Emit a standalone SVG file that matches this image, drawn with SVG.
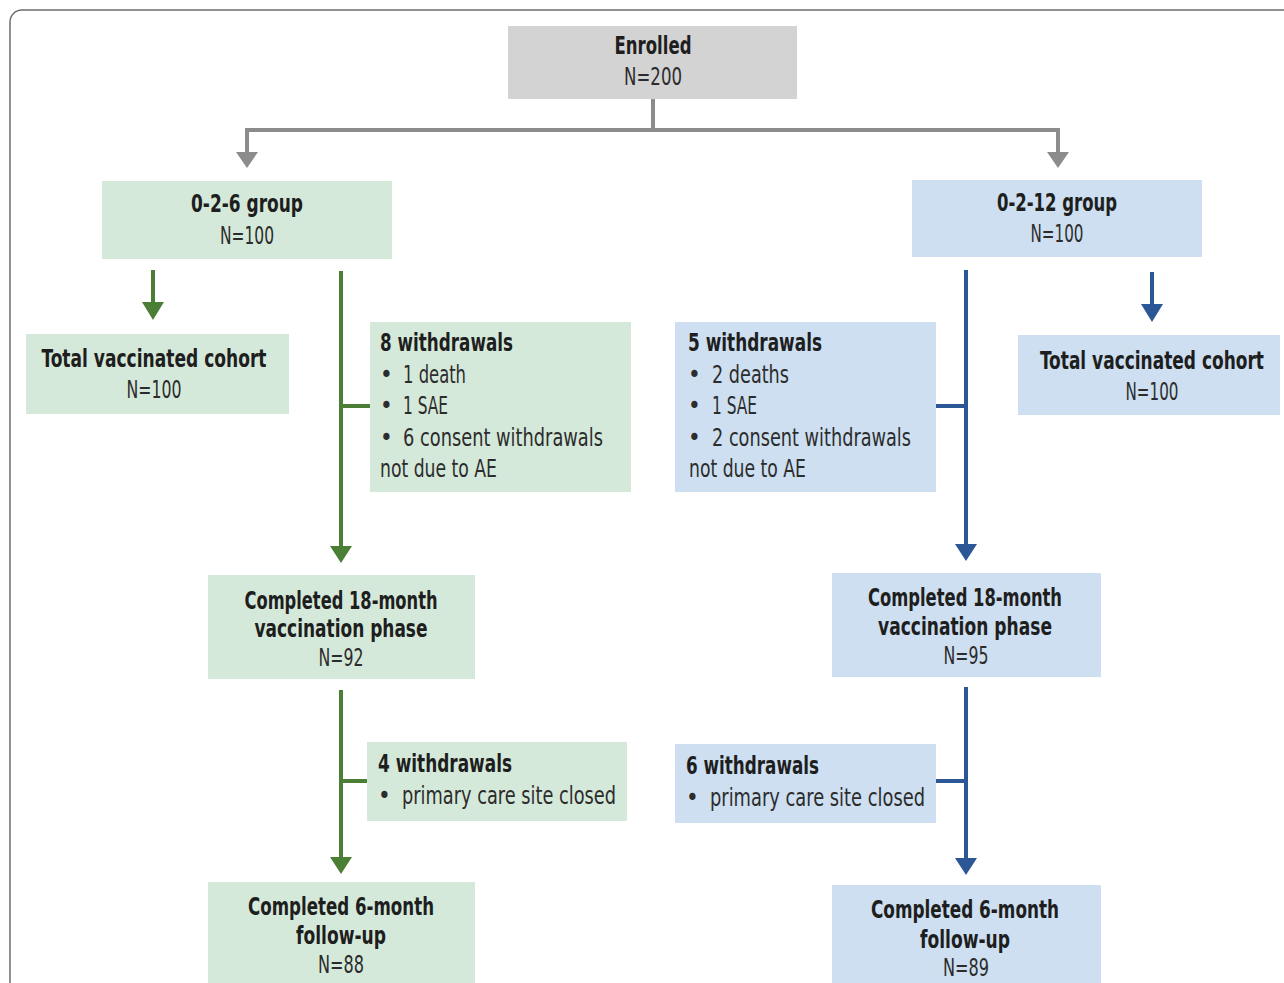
<svg xmlns="http://www.w3.org/2000/svg" width="1284" height="983" viewBox="0 0 1284 983">
<defs>
<style>
.t{font-family:"DejaVu Sans Condensed","DejaVu Sans","Liberation Sans",sans-serif;font-stretch:condensed;font-size:24px;fill:#2c2c2c;}
.b{font-weight:bold;fill:#1e1e1e;}
.c{text-anchor:middle;}
.g{fill:#d5e9da;}
.bl{fill:#cddff0;}
.gr{fill:#d3d3d4;}
.lg{stroke:#4b7f35;stroke-width:4;fill:none;}
.lb{stroke:#2b5797;stroke-width:4;fill:none;}
.lgr{stroke:#8c8c8c;stroke-width:4;fill:none;}
</style>
</defs>
<rect x="10" y="10" width="1300" height="1000" rx="12" fill="#ffffff" stroke="#6e6e6e" stroke-width="1.5"/>

<g id="connectors">
<path class="lgr" d="M653,99 V130 M247,130 H1058 M247,128 V156 M1058,128 V156"/>
<path d="M236,152 L258,152 L247,168 Z M1047,152 L1069,152 L1058,168 Z" fill="#8c8c8c"/>
<path class="lg" d="M153,270 V306 M341,271 V550 M341,406 H370 M341,690 V861 M341,781 H367"/>
<path d="M142,302 L164,302 L153,320 Z M330,546 L352,546 L341,563 Z M330,857 L352,857 L341,874 Z" fill="#4b7f35"/>
<path class="lb" d="M1152,272 V308 M966,270 V548 M936,406 H966 M966,687 V862 M936,781 H966"/>
<path d="M1141,304 L1163,304 L1152,322 Z M955,544 L977,544 L966,561 Z M955,858 L977,858 L966,875 Z" fill="#2b5797"/>
</g>

<g id="enrolled"><rect class="gr" x="508" y="26" width="289" height="73"/>
<text class="t b c" x="653" y="54" textLength="77" lengthAdjust="spacingAndGlyphs">Enrolled</text>
<text class="t c" x="653" y="85" textLength="58" lengthAdjust="spacingAndGlyphs">N=200</text></g>

<g id="g026"><rect class="g" x="102" y="181" width="290" height="78"/>
<text class="t b c" x="247" y="212" textLength="112" lengthAdjust="spacingAndGlyphs">0-2-6 group</text>
<text class="t c" x="247" y="244" textLength="54" lengthAdjust="spacingAndGlyphs">N=100</text></g>

<g id="g0212"><rect class="bl" x="912" y="180" width="290" height="77"/>
<text class="t b c" x="1057" y="211" textLength="120" lengthAdjust="spacingAndGlyphs">0-2-12 group</text>
<text class="t c" x="1057" y="242" textLength="53" lengthAdjust="spacingAndGlyphs">N=100</text></g>

<g id="tvc-left"><rect class="g" x="26" y="334" width="263" height="80"/>
<text class="t b c" x="154" y="367" textLength="225" lengthAdjust="spacingAndGlyphs">Total vaccinated cohort</text>
<text class="t c" x="154" y="398" textLength="55" lengthAdjust="spacingAndGlyphs">N=100</text></g>

<g id="tvc-right"><rect class="bl" x="1018" y="335" width="262" height="80"/>
<text class="t b c" x="1152" y="369" textLength="224" lengthAdjust="spacingAndGlyphs">Total vaccinated cohort</text>
<text class="t c" x="1152" y="400" textLength="53" lengthAdjust="spacingAndGlyphs">N=100</text></g>

<g id="w8"><rect class="g" x="370" y="322" width="261" height="170"/>
<text class="t b" x="380" y="351" textLength="133" lengthAdjust="spacingAndGlyphs">8 withdrawals</text>
<text class="t" x="380" y="383">•</text><text class="t" x="403" y="383" textLength="63" lengthAdjust="spacingAndGlyphs">1 death</text>
<text class="t" x="380" y="414">•</text><text class="t" x="403" y="414" textLength="45" lengthAdjust="spacingAndGlyphs">1 SAE</text>
<text class="t" x="380" y="446">•</text><text class="t" x="403" y="446" textLength="200" lengthAdjust="spacingAndGlyphs">6 consent withdrawals</text>
<text class="t" x="380" y="477" textLength="117" lengthAdjust="spacingAndGlyphs">not due to AE</text></g>

<g id="w5"><rect class="bl" x="675" y="322" width="261" height="170"/>
<text class="t b" x="688" y="351" textLength="134" lengthAdjust="spacingAndGlyphs">5 withdrawals</text>
<text class="t" x="688" y="383">•</text><text class="t" x="712" y="383" textLength="77" lengthAdjust="spacingAndGlyphs">2 deaths</text>
<text class="t" x="688" y="414">•</text><text class="t" x="712" y="414" textLength="45" lengthAdjust="spacingAndGlyphs">1 SAE</text>
<text class="t" x="688" y="446">•</text><text class="t" x="712" y="446" textLength="199" lengthAdjust="spacingAndGlyphs">2 consent withdrawals</text>
<text class="t" x="689" y="477" textLength="117" lengthAdjust="spacingAndGlyphs">not due to AE</text></g>

<g id="c18-left"><rect class="g" x="208" y="575" width="267" height="104"/>
<text class="t b c" x="341" y="609" textLength="193" lengthAdjust="spacingAndGlyphs">Completed 18-month</text>
<text class="t b c" x="341" y="637" textLength="173" lengthAdjust="spacingAndGlyphs">vaccination phase</text>
<text class="t c" x="341" y="666" textLength="45" lengthAdjust="spacingAndGlyphs">N=92</text></g>

<g id="c18-right"><rect class="bl" x="832" y="573" width="269" height="104"/>
<text class="t b c" x="965" y="606" textLength="194" lengthAdjust="spacingAndGlyphs">Completed 18-month</text>
<text class="t b c" x="965" y="635" textLength="174" lengthAdjust="spacingAndGlyphs">vaccination phase</text>
<text class="t c" x="966" y="664" textLength="45" lengthAdjust="spacingAndGlyphs">N=95</text></g>

<g id="w4"><rect class="g" x="367" y="742" width="260" height="79"/>
<text class="t b" x="378" y="772" textLength="134" lengthAdjust="spacingAndGlyphs">4 withdrawals</text>
<text class="t" x="378" y="804">•</text><text class="t" x="402" y="804" textLength="214" lengthAdjust="spacingAndGlyphs">primary care site closed</text></g>

<g id="w6"><rect class="bl" x="675" y="744" width="261" height="79"/>
<text class="t b" x="686" y="774" textLength="133" lengthAdjust="spacingAndGlyphs">6 withdrawals</text>
<text class="t" x="686" y="806">•</text><text class="t" x="710" y="806" textLength="215" lengthAdjust="spacingAndGlyphs">primary care site closed</text></g>

<g id="c6-left"><rect class="g" x="208" y="882" width="267" height="110"/>
<text class="t b c" x="341" y="915" textLength="186" lengthAdjust="spacingAndGlyphs">Completed 6-month</text>
<text class="t b c" x="341" y="944" textLength="90" lengthAdjust="spacingAndGlyphs">follow-up</text>
<text class="t c" x="341" y="973" textLength="46" lengthAdjust="spacingAndGlyphs">N=88</text></g>

<g id="c6-right"><rect class="bl" x="832" y="885" width="269" height="110"/>
<text class="t b c" x="965" y="918" textLength="188" lengthAdjust="spacingAndGlyphs">Completed 6-month</text>
<text class="t b c" x="965" y="948" textLength="90" lengthAdjust="spacingAndGlyphs">follow-up</text>
<text class="t c" x="966" y="976" textLength="46" lengthAdjust="spacingAndGlyphs">N=89</text></g>
</svg>
